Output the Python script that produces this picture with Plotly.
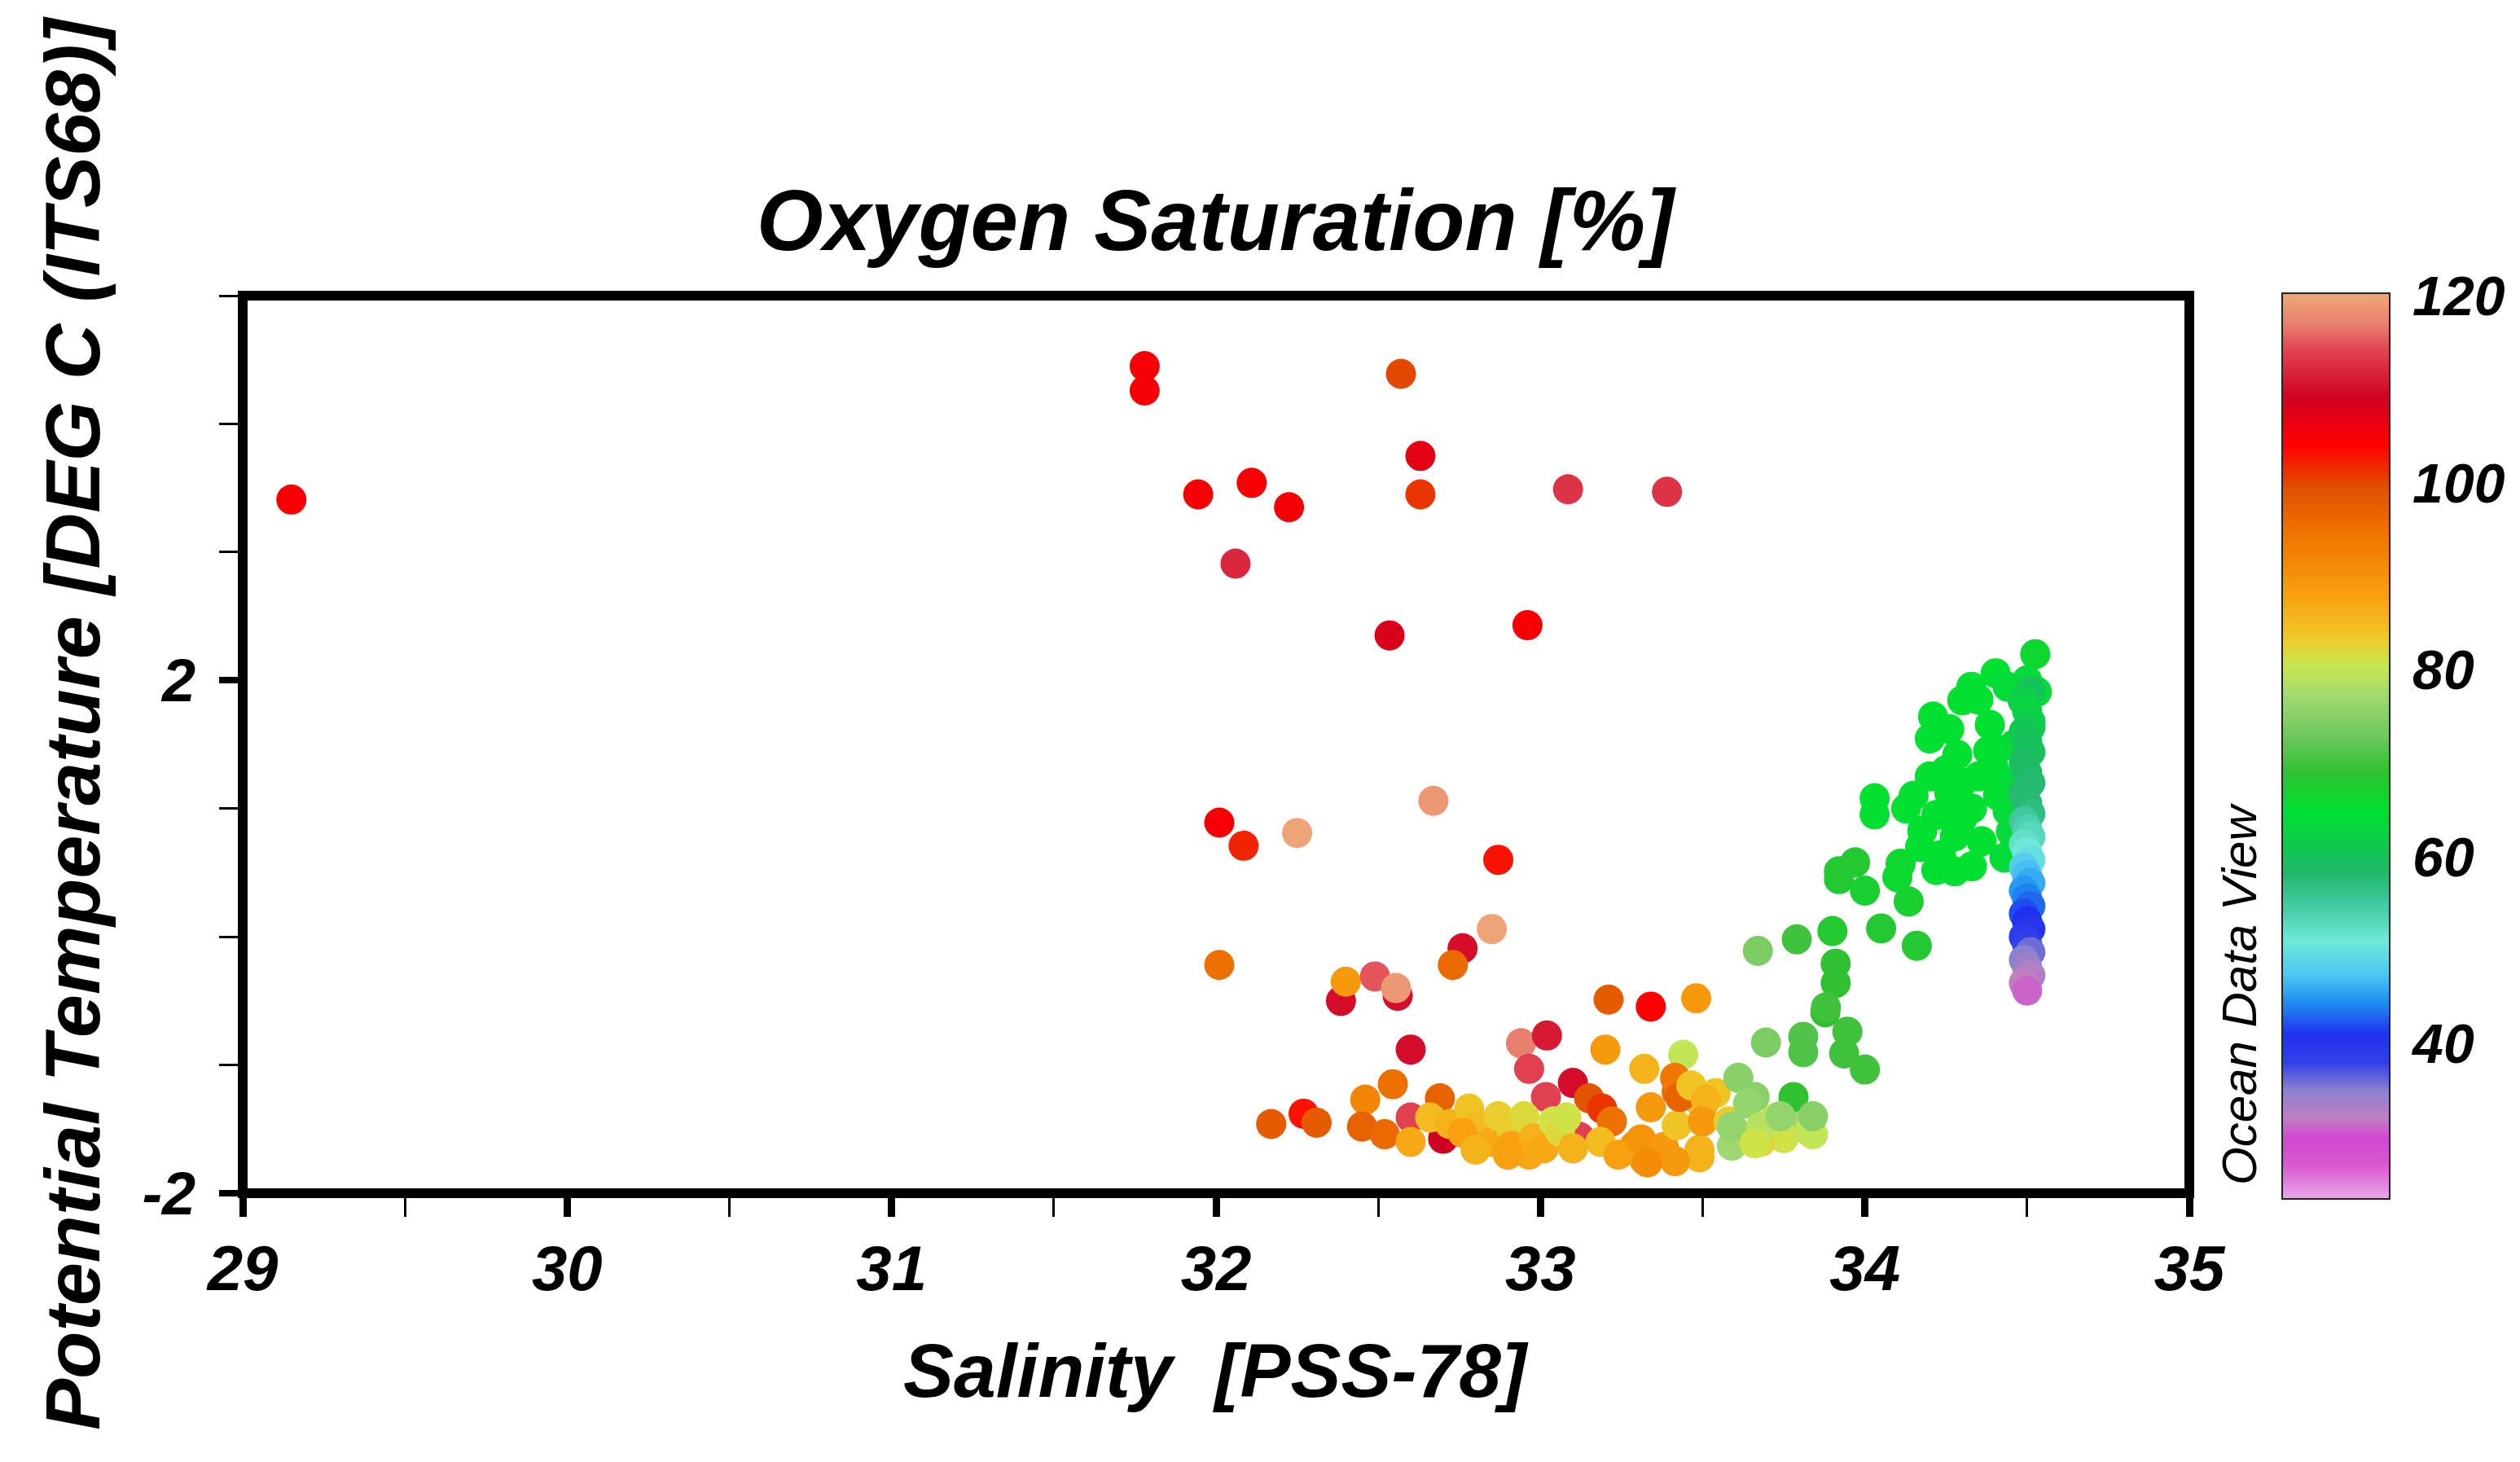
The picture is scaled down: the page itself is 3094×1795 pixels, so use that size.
import plotly.graph_objects as go

# ---------------- data ----------------
salinity = [
    29.15, 31.78, 31.78, 32.57, 32.63, 32.63, 31.945, 32.11, 32.225, 33.085, 33.39, 32.06, 32.535, 32.96,
    32.01, 32.085, 32.25, 32.67, 32.87, 32.85, 32.76, 32.73, 32.01, 32.385, 32.40, 32.56, 32.49, 32.555,
    33.21, 33.34, 33.48, 33.67,
    32.60, 32.94, 33.02, 32.965, 33.20, 33.32, 33.44, 33.10, 33.017, 33.15, 33.19, 33.22, 33.34, 33.12,
    32.69, 32.545, 32.46, 32.60, 32.70, 32.45, 32.52, 32.60, 32.27, 32.31, 32.17,
    32.66, 32.72, 32.78, 32.81, 32.76, 32.85, 32.80, 32.87, 32.91, 32.95, 32.91, 32.98, 33.01, 33.04,
    33.06, 33.08, 33.185, 33.29, 33.32, 33.24, 32.965, 32.90, 33.10, 33.31, 33.38, 33.49, 33.42, 33.50,
    33.42, 33.54, 33.415, 33.43, 33.465, 33.51, 33.50, 33.58, 33.725, 33.81, 33.84, 33.75, 33.68, 33.59,
    33.49, 33.415, 33.33, 33.67, 33.61, 33.66, 33.78, 33.64, 33.59, 33.68, 33.74, 33.83, 33.84, 33.66,
    33.695, 33.81, 33.81, 33.878, 33.946, 33.936, 34.00, 33.91, 33.91, 33.88, 33.79, 33.90, 34.05, 34.16,
    33.92, 33.97, 33.92, 34.00, 34.10, 34.135, 34.11, 34.03, 34.03, 34.127, 34.26, 34.33, 34.41, 34.177,
    34.277, 34.36, 34.43, 34.235, 34.277, 34.21, 34.20, 34.385, 34.285, 34.41, 34.51, 34.30, 34.328, 34.403,
    34.525, 34.53, 34.486,
    34.20, 34.25, 34.30, 34.35, 34.40, 34.45, 34.22, 34.30, 34.45, 34.33, 34.44, 34.46, 34.38, 34.28,
    34.17, 34.22, 34.26, 34.35, 34.44, 34.15,
    34.50, 34.51, 34.49, 34.50, 34.51, 34.49, 34.50, 34.51, 34.49, 34.50, 34.51, 34.49, 34.50, 34.51,
    34.49, 34.50, 34.51, 34.49, 34.50, 34.51, 34.49, 34.50, 34.51, 34.49, 34.50, 34.51, 34.49, 34.50,
    34.51, 34.49, 34.50, 34.51, 34.49, 34.50, 34.51, 34.49, 34.50,
]

temperature = [
    3.41, 4.45, 4.26, 4.39, 3.75, 3.45, 3.45, 3.54, 3.35, 3.49, 3.47, 2.91, 2.35, 2.43,
    0.89, 0.71, 0.81, 1.06, 0.60, 0.06, -0.09, -0.22, -0.22, -0.50, -0.35, -0.46, -0.31, -0.40,
    -0.49, -0.545, -0.48, -0.11,
    -0.88, -0.83, -0.77, -1.03, -0.88, -1.03, -0.92, -1.14, -1.25, -1.26, -1.34, -1.44, -1.33, -1.56,
    -1.26, -1.15, -1.27, -1.41, -1.575, -1.48, -1.54, -1.60, -1.38, -1.45, -1.46,
    -1.41, -1.46, -1.34, -1.47, -1.53, -1.60, -1.66, -1.40, -1.50, -1.40, -1.63, -1.57, -1.65, -1.44,
    -1.52, -1.41, -1.60, -1.63, -1.74, -1.70, -1.70, -1.70, -1.65, -1.58, -1.64, -1.66, -1.47, -1.32,
    -1.21, -1.22, -1.10, -1.25, -1.16, -1.27, -1.44, -1.44, -1.41, -1.41, -1.54, -1.57, -1.60, -1.63,
    -1.72, -1.75, -1.76, -1.52, -1.10, -1.25, -1.25, -1.30, -1.48, -1.48, -1.40, -1.52, -1.40, -1.61,
    -0.825, -0.78, -0.90, -0.59, -0.74, -0.91, -1.035, -0.21, -0.36, -0.55, -0.02, 0.045, 0.065, -0.07,
    0.51, 0.58, 0.45, 0.36, 0.465, 0.275, 0.57, 1.08, 0.955, 1.00, 1.126, 1.00, 1.10, 0.827,
    0.783, 0.745, 0.617, 0.637, 0.51, 1.717, 1.547, 1.653, 1.42, 1.46, 1.634, 1.844, 1.95, 2.055,
    2.204, 1.91, 1.844,
    1.25, 1.30, 1.20, 1.25, 1.30, 1.20, 0.95, 0.92, 0.82, 0.55, 0.98, 1.50, 1.45, 1.05,
    0.70, 0.52, 1.62, 1.85, 1.95, 1.10,
    2.00, 1.92, 1.84, 1.76, 1.68, 1.60, 1.52, 1.44, 1.36, 1.28, 1.20, 1.12, 1.04, 0.96,
    0.90, 0.84, 0.78, 0.72, 0.66, 0.60, 0.54, 0.48, 0.42, 0.36, 0.30, 0.24, 0.18, 0.12,
    0.06, 0.00, -0.06, -0.12, -0.18, -0.24, -0.30, -0.36, -0.42,
]

oxygen_saturation = [
    105, 105, 105, 100, 107, 101, 105, 105, 105, 113, 113, 112, 108, 105,
    105, 102, 120, 119, 103, 120, 110, 96, 95, 110, 89, 110, 115, 119,
    98, 104, 89, 74,
    110, 117, 111, 114, 89, 86, 80, 110, 114, 99, 101, 95, 89, 114,
    97, 95, 92, 114, 109, 97, 96, 87, 103, 98, 98,
    85, 86, 84, 85, 88, 87, 86, 83, 83, 82, 88, 86, 87, 81,
    82, 81, 85, 90, 89, 88, 87, 88, 86, 90, 89, 86, 84, 85,
    96, 84, 94, 97, 84, 86, 89, 83, 80, 77, 80, 81, 82, 77,
    86, 89, 91, 81, 75, 75, 69, 76, 76, 79, 76, 80, 75, 81,
    74, 71, 71, 69, 70, 70, 70, 69, 69, 70, 70, 68, 68, 68,
    68, 68, 68, 67, 66, 67, 66, 65, 65, 65, 65, 65, 65, 65,
    65, 65, 64, 65, 65, 65, 65, 65, 65, 65, 62, 65, 65, 65,
    66, 64, 58,
    65, 65, 65, 65, 65, 64, 65, 65, 64, 65, 64, 64, 65, 65,
    65, 65, 65, 65, 64, 65,
    64, 60, 62, 63, 62, 61, 60, 60, 59, 59, 58, 58, 58, 57,
    55, 54, 53, 52, 51, 50, 48, 47, 46, 45, 44, 43, 42, 41,
    40, 39, 38, 36, 35, 34, 33, 32, 31,
]

# colour scale stops (value, colour) of the ODV palette
scale_values = [23.4, 27, 30, 32, 35, 38, 41, 44.5, 47.5, 51, 55, 58.5, 61, 65, 69, 73, 77,
                80.5, 83.5, 88, 94, 99.5, 104, 109, 114, 117, 120.3]
scale_colors = ['#e8a8e8', '#d858d0', '#d048d0', '#c080c0', '#8c80d0', '#3040e8', '#2030f0',
                '#2090f0', '#50c8f0', '#70e8d8', '#40c8a0', '#20b868', '#10c850', '#00e030',
                '#30c030', '#70c860', '#a0d870', '#c8e850', '#f0c828', '#f8a010', '#f07800',
                '#e05000', '#ff0000', '#d00020', '#e04050', '#e88070', '#f0a878']
colorbar_ticks = [40, 60, 80, 100, 120]

x_range = [29, 35]
y_range = [-2, 5]
y_tick_values = [-2, 2]
y_tick_labels = ["-2", "2"]

title_text = "Oxygen Saturation [%]"
x_title = "Salinity\u00a0\u00a0[PSS-78]"
y_title = "Potential Temperature [DEG C (ITS68)]"
watermark = "Ocean Data View"

# ---------------- figure ----------------
W, H = 3094, 1795
L, R, T, B = 298, 2688, 363, 1465
pw, ph = R - L, B - T

cmin, cmax = scale_values[0], scale_values[-1]
colorscale = [[(v - cmin) / (cmax - cmin), c] for v, c in zip(scale_values, scale_colors)]

FONT = "Liberation Sans, Arial, sans-serif"

def px_x(px):
    return (px - L) / pw

def px_y(py):
    return (B - py) / ph

fig = go.Figure()
fig.add_trace(go.Scatter(
    x=salinity, y=temperature, mode="markers", showlegend=False, hoverinfo="skip",
    marker=dict(
        size=37, symbol="circle", color=oxygen_saturation, colorscale=colorscale,
        cmin=cmin, cmax=cmax, line=dict(width=0), opacity=1,
        colorbar=dict(
            thickness=132, thicknessmode="pixels",
            len=1112, lenmode="pixels",
            x=px_x(2802), xanchor="left", y=px_y(916), yanchor="middle",
            xpad=0, ypad=0, outlinewidth=2, outlinecolor="#222222", borderwidth=0,
            tickvals=colorbar_ticks, ticktext=[str(v) for v in colorbar_ticks],
            ticks="outside", ticklen=14, tickcolor="rgba(0,0,0,0)",
            tickfont=dict(family=FONT, size=68, color="black", weight="bold", style="italic"),
        ),
    ),
))

axis_font = dict(family=FONT, size=78, color="black", weight="bold", style="italic")

fig.update_layout(
    width=W, height=H, autosize=False,
    margin=dict(l=L, r=W - R, t=T, b=H - B, pad=0),
    paper_bgcolor="white", plot_bgcolor="white",
    xaxis=dict(
        range=x_range, showgrid=False, zeroline=False, showline=False,
        tick0=29, dtick=1, ticks="outside", ticklen=28, tickwidth=9, tickcolor="black",
        tickfont=axis_font, ticklabelstandoff=-4,
        minor=dict(dtick=0.5, ticks="outside", ticklen=28, tickwidth=2.5, tickcolor="black"),
    ),
    yaxis=dict(
        range=y_range, showgrid=False, zeroline=False, showline=False,
        tickmode="array", tickvals=y_tick_values, ticktext=y_tick_labels,
        ticks="outside", ticklen=28, tickwidth=8, tickcolor="black",
        tickfont=dict(family=FONT, size=74, color="black", weight="bold", style="italic"),
        ticklabelstandoff=14,
        minor=dict(tick0=-2, dtick=1, ticks="outside", ticklen=28, tickwidth=2.5, tickcolor="black"),
    ),
    shapes=[dict(type="rect", xref="paper", yref="paper", x0=0, x1=1, y0=0, y1=1,
                 line=dict(color="black", width=12), layer="above")],
    annotations=[
        dict(text=title_text, xref="paper", yref="paper", x=px_x(1494), y=px_y(270),
             xanchor="center", yanchor="middle", showarrow=False,
             font=dict(family=FONT, size=105, color="black", weight="bold", style="italic")),
        dict(text=x_title, xref="paper", yref="paper", x=px_x(1493), y=px_y(1683),
             xanchor="center", yanchor="middle", showarrow=False,
             font=dict(family=FONT, size=93, color="black", weight="bold", style="italic")),
        dict(text=y_title, xref="paper", yref="paper", x=px_x(89), y=px_y(888),
             xanchor="center", yanchor="middle", showarrow=False, textangle=-90,
             font=dict(family=FONT, size=95, color="black", weight="bold", style="italic")),
        dict(text=watermark, xref="paper", yref="paper", x=px_x(2749), y=px_y(1221),
             xanchor="center", yanchor="middle", showarrow=False, textangle=-90,
             font=dict(family=FONT, size=60, color="black", style="italic")),
    ],
)

fig.write_html("out.html")
